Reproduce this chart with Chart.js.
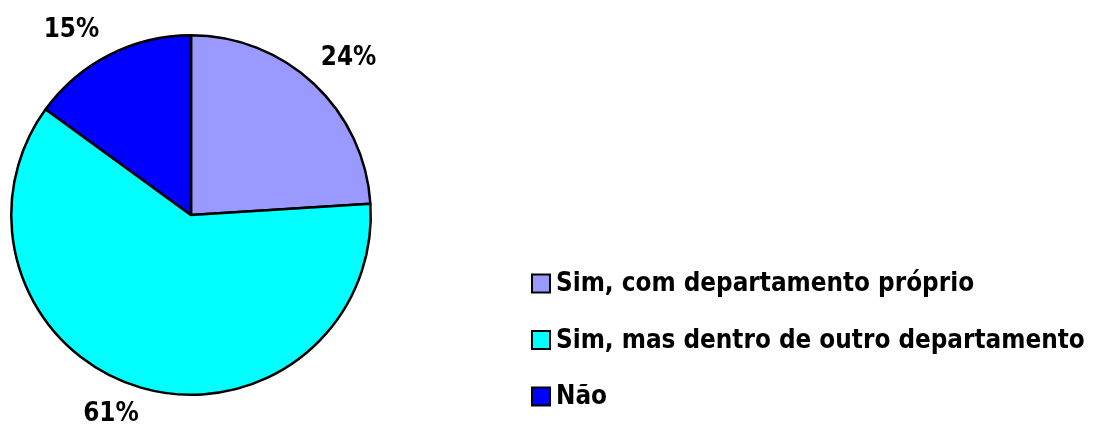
<!DOCTYPE html>
<html>
<head>
<meta charset="utf-8">
<script src="https://cdn.jsdelivr.net/npm/chart.js@4"></script>
<style>
  html, body { margin: 0; padding: 0; background: #fff; }
  #wrap { width: 1098px; height: 424px; position: relative; }
</style>
</head>
<body>
<div id="wrap"><canvas id="pieChart" width="1098" height="424"></canvas></div>
<script>
// dados do gráfico
const categorias = ['Sim, com departamento próprio', 'Sim, mas dentro de outro departamento', 'Não'];
const valores = [24, 61, 15];
const cores = ['#9999FF', '#00FFFF', '#0000FF'];

const fonte = 'bold 25.8px "DejaVu Sans Condensed", "DejaVu Sans", sans-serif';

// rótulos de percentagem fora das fatias
const rotulosPlugin = {
    id: 'rotulos',
    afterDatasetsDraw(chart) {
        const ctx = chart.ctx;
        const meta = chart.getDatasetMeta(0);
        const offsets = [43, 34, 41];
        const ajusteAngulo = [1.8, 5.8, -5.8]; // graus
        ctx.save();
        ctx.font = fonte;
        ctx.fillStyle = '#000';
        ctx.textAlign = 'center';
        ctx.textBaseline = 'middle';
        meta.data.forEach((arc, i) => {
            const meio = (arc.startAngle + arc.endAngle) / 2 + ajusteAngulo[i] * Math.PI / 180;
            const r = arc.outerRadius + offsets[i];
            const x = arc.x + Math.cos(meio) * r;
            const y = arc.y + Math.sin(meio) * r;
            ctx.fillText(valores[i] + '%', x, y + 1);
        });
        ctx.restore();
    }
};

// legenda desenhada à mão, no canto inferior direito
const legendaPlugin = {
    id: 'legenda',
    afterDraw(chart) {
        const ctx = chart.ctx;
        const x0 = 532, y0 = 283.5, passo = 56.5, lado = 18;
        ctx.save();
        ctx.font = fonte;
        ctx.textBaseline = 'middle';
        categorias.forEach((nome, i) => {
            const y = y0 + i * passo;
            ctx.fillStyle = cores[i];
            ctx.fillRect(x0, y - lado / 2, lado, lado);
            ctx.strokeStyle = '#000';
            ctx.lineWidth = 2;
            ctx.strokeRect(x0, y - lado / 2, lado, lado);
            ctx.fillStyle = '#000';
            ctx.fillText(nome, 556, y + 1);
        });
        ctx.restore();
    }
};

new Chart(document.getElementById('pieChart'), {
    type: 'pie',
    data: {
        labels: categorias,
        datasets: [{
            data: valores,
            backgroundColor: cores,
            borderColor: '#000',
            borderWidth: 2.5,
            borderAlign: 'center'
        }]
    },
    options: {
        responsive: false,
        animation: false,
        layout: { padding: { left: 10, top: 34, bottom: 28, right: 726 } },
        plugins: {
            legend: { display: false },
            tooltip: { enabled: false }
        }
    },
    plugins: [rotulosPlugin, legendaPlugin]
});
</script>
</body>
</html>
